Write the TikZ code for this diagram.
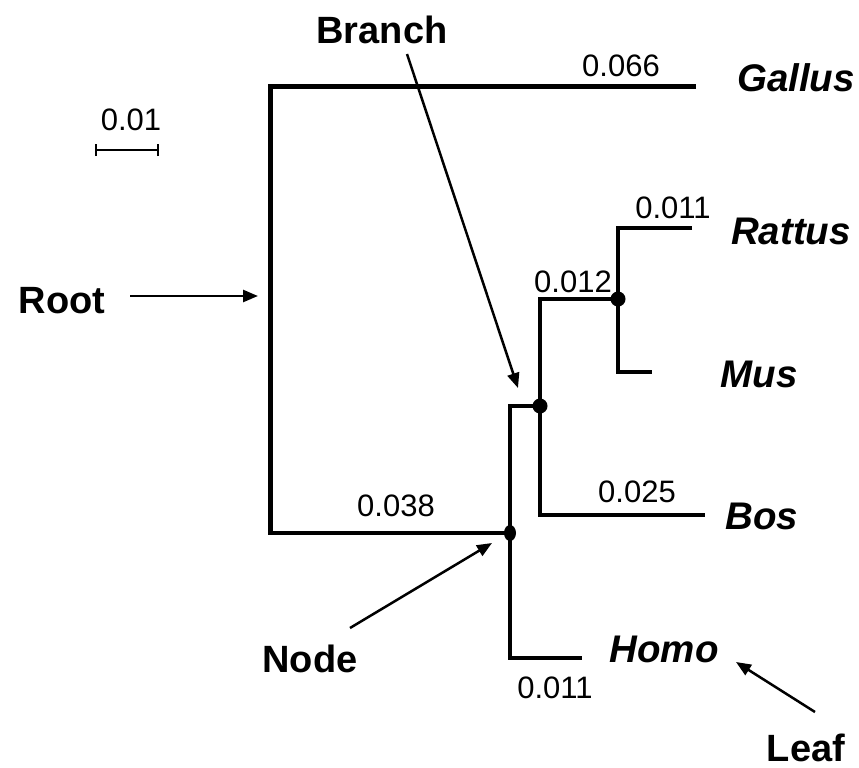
\documentclass[tikz,border=0pt]{standalone}
\usepackage{fontspec}
\setmainfont{Liberation Sans}
\usetikzlibrary{arrows.meta,shapes.geometric}
\begin{document}
\begin{tikzpicture}[x=1pt,y=-1pt,
  tree/.style={line width=4.8pt},
  lbl/.style={inner sep=0pt,anchor=base,font=\fontsize{31}{31}\selectfont},
  taxon/.style={inner sep=0pt,anchor=base,font=\fontsize{38.5}{38.5}\selectfont\bfseries\itshape},
  term/.style={inner sep=0pt,anchor=base,font=\fontsize{38}{38}\selectfont\bfseries},
  pointer/.style={line width=2.5pt,-{Triangle[length=15pt,width=12pt]}},
  dot/.style={fill=black,circle,inner sep=0pt,minimum size=15pt}]
\useasboundingbox (0,0) rectangle (859,768);
% tree coordinates
\coordinate (rtop) at (270.5,86.5);
\coordinate (rbot) at (270.5,533);
\coordinate (gal) at (696,86.5);
\node[fill=black,ellipse,inner sep=0pt,minimum width=12pt,minimum height=16pt] (n1) at (510,533) {};
\node[dot] (n2) at (540,406) {};
\node[dot] (n3) at (618,299) {};
\coordinate (n1up) at (510,406);
\coordinate (n1dn) at (510,658);
\coordinate (homo) at (582,658);
\coordinate (n2up) at (540,299);
\coordinate (n2dn) at (540,515);
\coordinate (bos) at (705,515);
\coordinate (n3up) at (618,228);
\coordinate (n3dn) at (618,372);
\coordinate (rat) at (692,228);
\coordinate (mus) at (652,372);
% branches
\draw[tree] (gal) -- (rtop) -- (rbot) -- (n1.center);
\draw[tree] (n2.center) -- (n1up) -- (n1dn) -- (homo);
\draw[tree] (n3.center) -- (n2up) -- (n2dn) -- (bos);
\draw[tree] (rat) -- (n3up) -- (n3dn) -- (mus);
% branch lengths
\node[lbl] (l1) at (621,76) {0.066};
\node[lbl] (l2) at (673,218) {0.011};
\node[lbl] (l3) at (573,292) {0.012};
\node[lbl] (l4) at (637,502) {0.025};
\node[lbl] (l5) at (396,516) {0.038};
\node[lbl] (l6) at (555,698) {0.011};
% scale bar
\node[lbl] (sc) at (131,130) {0.01};
\coordinate (sb1) at (96,150);
\coordinate (sb2) at (158,150);
\draw[line width=2pt] (sb1) -- (sb2);
\draw[line width=2pt] ([yshift=-6pt]sb1) -- ([yshift=6pt]sb1);
\draw[line width=2pt] ([yshift=-6pt]sb2) -- ([yshift=6pt]sb2);
% taxa
\node[taxon] (tg) at (796,91) {Gallus};
\node[taxon] (tr) at (791,244) {Rattus};
\node[taxon] (tm) at (759,387) {Mus};
\node[taxon] (tb) at (762,529) {Bos};
\node[taxon] (th) at (664,662) {Homo};
% terms
\node[term] (branch) at (382,44) {Branch};
\node[term] (root) at (62,313) {Root};
\node[term] (node) at (310,672) {Node};
\node[term] (leaf) at (806,761) {Leaf};
% pointers
\coordinate (bs) at (407,54);
\coordinate (be) at (518,388);
\draw[pointer] (bs) -- (be);
\coordinate (rs) at (130,296);
\coordinate (re) at (258,296);
\draw[pointer] (rs) -- (re);
\coordinate (ns) at (350,628);
\coordinate (ne) at (492,543);
\draw[pointer] (ns) -- (ne);
\coordinate (ls) at (815,712);
\coordinate (le) at (736,662);
\draw[pointer] (ls) -- (le);
\end{tikzpicture}
\end{document}
